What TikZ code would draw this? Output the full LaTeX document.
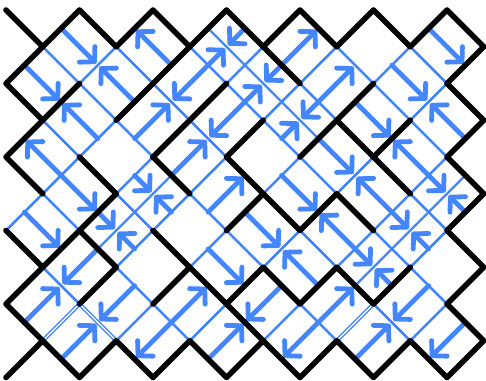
\documentclass[tikz,border=0pt]{standalone}
\usetikzlibrary{arrows.meta}
\definecolor{dblue}{RGB}{68,134,255}
\begin{document}
\begin{tikzpicture}[x=9.1875pt,y=-9.1875pt,
  gridline/.style={line width=1.2pt, dblue},
  twinline/.style={line width=0.7pt, dblue, double=white, double distance=0.6pt},
  boldline/.style={line width=2.8pt, black, line cap=round, line join=round},
  arr/.style={line width=2.4pt, dblue, line cap=round, shorten >=1.2pt,
    -{Straight Barb[length=5.2pt,width=11pt,round]}}]
\useasboundingbox (-0.32653,-0.54422) rectangle (26.12245,20.13605);
% block edges (thin blue)
\foreach \q in {2,6,10,14,18}{\foreach \p in {4,8,...,24}{
  \draw[gridline] (\p,\q-2) -- (\p-2,\q) -- (\p,\q+2) -- (\p+2,\q) -- cycle;}}
\foreach \q in {4,8,12,16}{\foreach \p in {2,6,...,22}{
  \draw[gridline] (\p,\q-2) -- (\p-2,\q) -- (\p,\q+2) -- (\p+2,\q) -- cycle;}}
\draw[gridline] (2,10) -- (0,12);
% doubled edges
\foreach \a/\b/\c/\d in {2/18/4/16, 4/16/6/18, 18/18/20/16}{
  \draw[white, line width=2pt] (\a,\b) -- (\c,\d);
  \draw[twinline] (\a,\b) -- (\c,\d);}
% midlines of collision blocks
\draw[gridline] (11,1) -- (17,7);
\draw[gridline] (5,13) -- (9,9);
\draw[gridline] (19,15) -- (25,9);
% arrows (full length)
\foreach \a/\b/\c/\d in {3/1/5/3, 9/3/7/1, 15/3/17/1, 23/1/25/3,
  1/3/3/5, 7/5/5/3, 11/3/9/5, 17/5/19/3, 21/3/23/5,
  5/7/3/5, 7/7/9/5, 13/5/11/7, 19/5/21/7, 25/7/23/5,
  3/9/1/7, 9/9/11/7, 17/7/19/9, 23/9/21/7,
  3/9/5/11, 11/11/13/9, 15/9/17/11, 21/11/19/9,
  1/11/3/13, 13/11/15/13, 19/13/17/11,
  5/13/3/15, 11/13/13/15, 17/15/15/13,
  1/17/3/15, 7/15/5/17, 9/17/11/15, 15/15/13/17, 17/17/19/15, 23/15/21/17,
  3/19/5/17, 9/17/7/19, 11/19/13/17, 17/17/15/19, 19/19/21/17, 25/17/23/19}{
  \draw[arr] (\a,\b) -- (\c,\d);}
% arrows (half length, meeting at block centres)
\foreach \a/\b/\c/\d in {13/1/12/2, 11/3/12/2, 15/3/14/4, 13/5/14/4,
  17/5/16/6, 15/7/16/6, 7/9/8/10, 9/11/8/10, 23/9/24/10, 25/11/24/10,
  5/11/6/12, 7/13/6/12, 21/11/22/12, 23/13/22/12, 19/13/20/14, 21/15/20/14}{
  \draw[arr] (\a,\b) -- (\c,\d);}
% bold black lines
\draw[boldline] (0,0) -- (2,2) -- (4,0) -- (6,2) -- (8,0) -- (10,2) -- (12,0) -- (14,2)
  -- (16,0) -- (18,2) -- (20,0) -- (22,2) -- (24,0) -- (26,2) -- (24,4) -- (26,6)
  -- (24,8) -- (26,10) -- (24,12) -- (26,14) -- (24,16) -- (26,18) -- (24,20)
  -- (22,18) -- (20,20) -- (18,18) -- (16,20) -- (14,18) -- (12,20) -- (10,18)
  -- (8,20) -- (6,18) -- (4,20) -- (2,18) -- (0,20);
\draw[boldline] (2,2) -- (0,4) -- (2,6) -- (0,8) -- (2,10);
\draw[boldline] (0,12) -- (2,14) -- (0,16) -- (2,18);
\draw[boldline] (2,6) -- (4,4);
\draw[boldline] (6,6) -- (8,4) -- (10,2);
\draw[boldline] (14,2) -- (16,4);
\draw[boldline] (12,4) -- (10,6) -- (8,8);
\draw[boldline] (20,4) -- (18,6) -- (16,8);
\draw[boldline] (18,6) -- (20,8) -- (22,10);
\draw[boldline] (20,8) -- (22,6);
\draw[boldline] (4,8) -- (6,10) -- (4,12) -- (2,14);
\draw[boldline] (8,8) -- (10,10);
\draw[boldline] (14,6) -- (12,8) -- (14,10) -- (16,12) -- (18,10) -- (20,12);
\draw[boldline] (14,10) -- (12,12);
\draw[boldline] (4,12) -- (6,14) -- (4,16);
\draw[boldline] (8,12) -- (10,14) -- (12,16) -- (14,18);
\draw[boldline] (10,14) -- (8,16);
\draw[boldline] (12,16) -- (14,14) -- (16,16) -- (18,14) -- (20,16) -- (22,14);
\end{tikzpicture}
\end{document}
